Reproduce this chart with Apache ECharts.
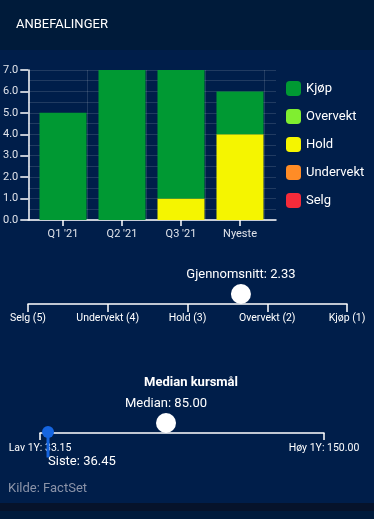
<!DOCTYPE html>
<html>
<head>
<meta charset="utf-8">
<script src="https://cdn.jsdelivr.net/npm/echarts@6/dist/echarts.min.js"></script>
<style>
html,body{margin:0;padding:0;background:#001e4a;}
#c{width:374px;height:519px;}
</style>
</head>
<body>
<div id="c"></div>
<script>
const periods = ["Q1 '21", "Q2 '21", "Q3 '21", "Nyeste"];
const kjop = [5, 7, 6, 2];
const overvekt = [0, 0, 0, 0];
const hold = [0, 0, 1, 4];
const undervekt = [0, 0, 0, 0];
const selg = [0, 0, 0, 0];
const countMax = 7;

const ratingNames = {1: 'Kjøp (1)', 2: 'Overvekt (2)', 3: 'Hold (3)', 4: 'Undervekt (4)', 5: 'Selg (5)'};
const averageRating = 2.33;

const low1Y = 33.15;
const high1Y = 150.00;
const medianTarget = 85.00;
const lastPrice = 36.45;

const colors = {Kjøp: '#009933', Overvekt: '#80ee30', Hold: '#f5f500', Undervekt: '#ff8c26', Selg: '#f52b3a'};
const FONT = 'Roboto, "DejaVu Sans", sans-serif';
const gridLine = 'rgba(255,255,255,0.13)';

const chart = echarts.init(document.getElementById('c'), null, {renderer: 'canvas'});

function barSeries(name, data) {
  return {
    name: name, type: 'bar', stack: 'rec', xAxisIndex: 1, yAxisIndex: 1,
    data: data, barWidth: 47, itemStyle: {color: colors[name]}, z: 3
  };
}

const option = {
  backgroundColor: '#001e4a',
  textStyle: {fontFamily: FONT},
  animation: false,
  graphic: [
    {type: 'rect', z: -10, shape: {x: 0, y: 0, width: 374, height: 50}, style: {fill: '#001b3a'}, silent: true},
    {type: 'rect', z: -10, shape: {x: 0, y: 503, width: 374, height: 8}, style: {fill: '#06132b'}, silent: true},
    {type: 'rect', z: -10, shape: {x: 0, y: 511, width: 374, height: 8}, style: {fill: '#001b3c'}, silent: true}
  ],
  title: [
    {text: 'ANBEFALINGER', left: 16, top: 18, padding: 0,
     textStyle: {color: '#ffffff', fontSize: 13, fontWeight: 'normal', fontFamily: FONT}},
    {text: 'Median kursmål', left: 191, top: 376, padding: 0, textAlign: 'center',
     textStyle: {color: '#ffffff', fontSize: 13, fontWeight: 'bold', fontFamily: FONT}},
    {text: 'Kilde: FactSet', left: 8, top: 482, padding: 0,
     textStyle: {color: '#8a93a8', fontSize: 13, fontWeight: 'normal', fontFamily: FONT}}
  ],
  legend: {
    orient: 'vertical', left: 286, top: 81, itemWidth: 15, itemHeight: 15, itemGap: 13,
    icon: 'roundRect', padding: 0,
    data: ['Kjøp', 'Overvekt', 'Hold', 'Undervekt', 'Selg'],
    textStyle: {color: '#ffffff', fontSize: 13, fontFamily: FONT}
  },
  grid: [
    {left: 26, top: 70, width: 250, height: 150},
    {left: 33.5, top: 70, width: 236, height: 150},
    {left: 28, top: 294, width: 319, height: 10},
    {left: 40, top: 423, width: 284, height: 10}
  ],
  xAxis: [
    {gridIndex: 0, type: 'value', min: 0, max: 248, interval: 59,
     axisLine: {show: true, lineStyle: {color: '#ffffff', width: 1.5}},
     axisTick: {show: false}, axisLabel: {show: false},
     splitLine: {show: true, showMinLine: false, showMaxLine: false, lineStyle: {color: gridLine}}},
    {gridIndex: 1, type: 'category', data: periods,
     axisLine: {show: false},
     axisTick: {show: true, alignWithLabel: true, length: 6, lineStyle: {color: '#ffffff', width: 1.5}},
     axisLabel: {color: '#dfe3ea', fontSize: 11, margin: 9, fontFamily: FONT}},
    {gridIndex: 2, type: 'value', min: 1, max: 5, interval: 1, inverse: true,
     axisLine: {show: true, lineStyle: {color: '#ffffff', width: 1.5}},
     axisTick: {show: true, length: 8, lineStyle: {color: '#ffffff', width: 1.5}},
     axisLabel: {color: '#ffffff', fontSize: 10.5, margin: 9, fontFamily: FONT,
                 formatter: v => ratingNames[v] || ''},
     splitLine: {show: false}},
    {gridIndex: 3, type: 'value', min: low1Y, max: high1Y,
     axisLine: {show: true, lineStyle: {color: '#ffffff', width: 1.5}},
     axisTick: {show: true, length: 7, customValues: [low1Y, high1Y], lineStyle: {color: '#ffffff', width: 1.5}},
     axisLabel: {color: '#ffffff', fontSize: 10.5, margin: 10, fontFamily: FONT,
                 customValues: [low1Y, high1Y],
                 formatter: v => (Math.abs(v - low1Y) < 1e-6 ? 'Lav 1Y: ' + low1Y.toFixed(2) : 'Høy 1Y: ' + high1Y.toFixed(2))},
     splitLine: {show: false}}
  ],
  yAxis: [
    {gridIndex: 0, type: 'value', min: 0, max: countMax, interval: 1,
     axisLine: {show: true, lineStyle: {color: '#ffffff', width: 1.5}},
     axisTick: {show: true, length: 8, lineStyle: {color: '#ffffff', width: 1.5}},
     axisLabel: {color: '#dfe3ea', fontSize: 11, margin: 10, fontFamily: FONT, formatter: v => v.toFixed(1)},
     minorTick: {show: false, splitNumber: 2},
     minorSplitLine: {show: true, lineStyle: {color: gridLine}},
     splitLine: {show: true, lineStyle: {color: gridLine}}},
    {gridIndex: 1, type: 'value', min: 0, max: countMax, show: false},
    {gridIndex: 2, type: 'value', min: 0, max: 1, show: false},
    {gridIndex: 3, type: 'value', min: 0, max: 1, show: false}
  ],
  series: [
    barSeries('Selg', selg),
    barSeries('Undervekt', undervekt),
    barSeries('Hold', hold),
    barSeries('Overvekt', overvekt),
    barSeries('Kjøp', kjop),
    {type: 'scatter', xAxisIndex: 2, yAxisIndex: 2, data: [[averageRating, 1]],
     symbol: 'circle', symbolSize: 20, itemStyle: {color: '#ffffff', opacity: 1}, z: 5,
     label: {show: true, position: 'top', distance: 3, color: '#ffffff', fontSize: 13, fontFamily: FONT,
             formatter: p => 'Gjennomsnitt: ' + p.value[0].toFixed(2)}},
    {type: 'scatter', xAxisIndex: 3, yAxisIndex: 3, data: [[medianTarget, 1]],
     symbol: 'circle', symbolSize: 20, itemStyle: {color: '#ffffff', opacity: 1}, z: 5,
     label: {show: true, position: 'top', distance: 3, color: '#ffffff', fontSize: 13, fontFamily: FONT,
             formatter: p => 'Median: ' + p.value[0].toFixed(2)}},
    {type: 'scatter', xAxisIndex: 3, yAxisIndex: 3, data: [[lastPrice, 0]],
     symbol: 'rect', symbolSize: [3, 25], symbolOffset: [0, 12], itemStyle: {color: '#1565e0', opacity: 1}, z: 5},
    {type: 'scatter', xAxisIndex: 3, yAxisIndex: 3, data: [[lastPrice, 0]],
     symbol: 'circle', symbolSize: 12, symbolOffset: [0, -1], itemStyle: {color: '#1565e0', opacity: 1}, z: 6,
     label: {show: true, position: 'bottom', align: 'left', distance: 17, color: '#ffffff', fontSize: 13, fontFamily: FONT,
             formatter: p => 'Siste: ' + p.value[0].toFixed(2)}}
  ]
};
chart.setOption(option);
</script>
</body>
</html>
